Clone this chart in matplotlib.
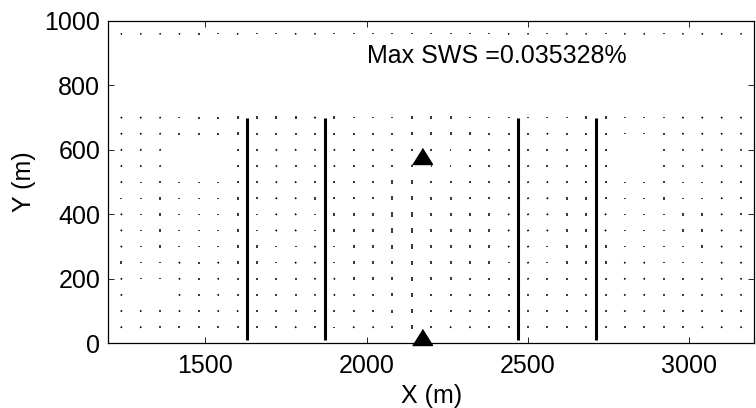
import numpy as np
import matplotlib
matplotlib.use('Agg')
import matplotlib.pyplot as plt
from matplotlib.collections import LineCollection

# grid of the splitting field (m)
x_cols = [1240, 1300, 1360, 1420, 1480, 1540, 1600, 1660, 1720, 1780, 1840,
          1900, 1960, 2020, 2080, 2140, 2200, 2260, 2320, 2380, 2440, 2500,
          2560, 2620, 2680, 2740, 2800, 2860, 2920, 2980, 3040, 3100, 3160]
y_rows = [960, 700, 650, 600, 550, 500, 450, 400, 350, 300, 250, 200, 150, 100, 50]

# SWS magnitude (%) per grid node, rows top -> bottom
sws_mag = [
    [.012, .012, .012, .012, .012, .009, .012, .009, .009, .012, .012, .009, .009, .009, .009, .009, .009, .009, .009, .009, .012, .012, .009, .012, .012, .009, .012, .012, .009, .012, .012, .012, .012],
    [.014, .014, .014, .006, .014, .014, .020, .020, .020, .020, .016, .020, .012, .012, .012, .020, .020, .020, .012, .012, .012, .012, .012, .012, .020, .020, .012, .012, .012, .014, .014, .014, .014],
    [.014, .014, .014, .012, .014, .014, .020, .012, .012, .012, .012, .012, .012, .012, .012, .020, .020, .020, .020, .012, .012, .012, .014, .012, .012, .014, .006, .006, .012, .014, .014, .014, .014],
    [.014, .014, .014, .006, .006, .006, .020, .012, .014, .014, .014, .014, .012, .012, .012, .020, .020, .010, .012, .012, .012, .012, .012, .020, .020, .014, .006, .006, .014, .014, .014, .014, .014],
    [.014, .014, .014, .006, .006, .006, .020, .012, .014, .012, .014, .014, .012, .012, .012, .012, .010, .010, .012, .012, .012, .014, .012, .020, .020, .014, .006, .006, .014, .014, .014, .014, .014],
    [.014, .006, .020, .006, .006, .006, .020, .012, .014, .014, .020, .014, .012, .012, .032, .032, .020, .020, .012, .012, .012, .014, .014, .020, .020, .014, .006, .006, .020, .006, .006, .014, .014],
    [.006, .006, .020, .006, .006, .006, .020, .012, .014, .014, .020, .014, .012, .012, .033, .033, .020, .020, .012, .012, .012, .014, .014, .020, .020, .014, .006, .006, .020, .006, .006, .014, .014],
    [.014, .006, .020, .006, .006, .006, .020, .012, .014, .014, .006, .020, .022, .022, .0353, .035, .022, .022, .020, .020, .014, .014, .014, .020, .020, .014, .006, .006, .006, .020, .020, .014, .014],
    [.014, .006, .020, .006, .006, .006, .020, .012, .014, .014, .006, .020, .022, .022, .035, .035, .022, .022, .020, .020, .014, .014, .014, .020, .020, .014, .006, .006, .006, .020, .020, .014, .014],
    [.014, .006, .020, .006, .014, .014, .020, .020, .012, .012, .014, .012, .022, .022, .032, .034, .022, .022, .020, .020, .014, .014, .012, .020, .020, .020, .006, .006, .006, .006, .020, .014, .014],
    [.020, .006, .006, .014, .014, .014, .020, .020, .012, .014, .014, .012, .022, .022, .024, .034, .022, .022, .020, .020, .012, .014, .012, .020, .020, .020, .014, .014, .006, .006, .006, .014, .014],
    [.014, .006, .006, .014, .014, .014, .020, .020, .012, .012, .014, .014, .022, .022, .024, .034, .022, .022, .020, .020, .012, .014, .012, .020, .020, .020, .014, .014, .014, .014, .014, .014, .014],
    [.014, .006, .006, .014, .014, .014, .020, .012, .012, .012, .014, .014, .022, .022, .024, .034, .022, .022, .020, .020, .012, .012, .012, .020, .020, .020, .014, .014, .014, .014, .014, .014, .014],
    [.014, .014, .014, .014, .014, .014, .014, .012, .012, .012, .014, .014, .022, .022, .024, .034, .022, .022, .020, .020, .012, .012, .012, .020, .020, .020, .014, .014, .014, .014, .014, .014, .014],
    [.014, .014, .012, .012, .012, .012, .012, .012, .012, .014, .012, .006, .014, .014, .020, .032, .020, .014, .014, .012, .012, .012, .012, .012, .012, .012, .012, .012, .020, .020, .014, .014, .014],
]

# fast direction (deg from +x) per grid node
sws_dir = [
    [45, 45, 45, 45, 90, 90, 45, 90, 90, 135, 135, 90, 90, 90, 90, 90, 90, 90, 90, 90, 45, 45, 90, 45, 45, 90, 135, 135, 90, 135, 135, 135, 135],
    [45, 45, 45, 90, 90, 90, 90, 90, 90, 90, 135, 90, 90, 90, 90, 90, 90, 90, 90, 90, 90, 90, 90, 90, 90, 90, 90, 90, 90, 135, 135, 135, 135],
    [45, 45, 45, 90, 90, 90, 90, 90, 90, 90, 90, 90, 90, 90, 90, 90, 90, 90, 90, 90, 90, 90, 45, 90, 90, 90, 90, 90, 90, 135, 135, 135, 135],
    [45, 45, 45, 90, 90, 90, 90, 90, 135, 135, 135, 135, 90, 90, 90, 90, 90, 0, 90, 90, 90, 90, 90, 90, 90, 90, 90, 90, 90, 135, 135, 135, 135],
    [45, 45, 45, 90, 90, 90, 90, 90, 135, 90, 135, 135, 90, 90, 90, 90, 0, 0, 90, 90, 90, 45, 90, 90, 90, 90, 90, 90, 90, 135, 135, 135, 135],
    [45, 90, 90, 90, 90, 90, 90, 90, 135, 135, 90, 0, 90, 90, 90, 90, 90, 90, 90, 90, 90, 45, 45, 90, 90, 90, 90, 90, 90, 90, 90, 135, 0],
    [90, 90, 90, 90, 90, 90, 90, 90, 135, 135, 90, 0, 90, 90, 90, 90, 90, 90, 90, 90, 90, 45, 45, 90, 90, 90, 90, 90, 90, 90, 90, 135, 0],
    [45, 90, 90, 90, 90, 90, 90, 90, 135, 135, 90, 90, 90, 90, 90, 90, 90, 90, 90, 90, 45, 45, 45, 90, 90, 45, 90, 90, 90, 90, 90, 135, 0],
    [45, 90, 90, 90, 90, 90, 90, 90, 135, 135, 90, 90, 90, 90, 90, 90, 90, 90, 90, 90, 45, 45, 45, 90, 90, 45, 90, 90, 90, 90, 90, 135, 135],
    [45, 90, 90, 90, 90, 90, 90, 90, 90, 90, 135, 90, 90, 90, 90, 90, 90, 90, 90, 90, 45, 45, 90, 90, 90, 90, 90, 90, 90, 90, 90, 135, 135],
    [90, 90, 90, 135, 90, 135, 90, 90, 90, 135, 135, 90, 90, 90, 90, 90, 90, 90, 90, 90, 90, 45, 90, 90, 90, 90, 45, 45, 90, 90, 90, 135, 135],
    [45, 90, 90, 135, 90, 135, 90, 90, 90, 90, 135, 135, 90, 90, 90, 90, 90, 90, 90, 90, 90, 45, 90, 90, 90, 90, 45, 45, 90, 90, 90, 135, 135],
    [45, 90, 90, 135, 90, 135, 90, 90, 90, 90, 135, 135, 90, 90, 90, 90, 90, 90, 90, 90, 90, 90, 90, 90, 90, 90, 45, 45, 90, 90, 90, 135, 135],
    [45, 45, 90, 135, 90, 135, 135, 90, 90, 90, 0, 0, 90, 90, 90, 90, 90, 90, 90, 90, 90, 90, 90, 90, 90, 90, 45, 45, 90, 90, 90, 0, 0],
    [45, 45, 90, 90, 90, 90, 90, 90, 90, 135, 90, 90, 135, 135, 90, 90, 90, 135, 135, 90, 90, 90, 90, 90, 90, 90, 90, 90, 90, 90, 135, 135, 135],
]

# wells (vertical lines) and stations (triangles)
well_x = [1630, 1870, 2470, 2710]
well_top = 700
well_bot = 10
station_x = [2170, 2170]
station_y = [580, 20]
max_sws = 0.035328

seg_scale = 400.0  # metres of segment per % of SWS

plt.rcParams['font.family'] = ['Liberation Sans', 'DejaVu Sans']
plt.rcParams['font.size'] = 18

fig = plt.figure(figsize=(7.56, 4.08), dpi=100)
ax = fig.add_axes([0.1435, 0.1586, 0.8538, 0.790])

# splitting field as short centred segments
X, Y = np.meshgrid(np.array(x_cols, float), np.array(y_rows, float))
half = 0.5 * np.array(sws_mag) * seg_scale
th = np.deg2rad(np.array(sws_dir, float))
dx = half * np.cos(th)
dy = half * np.sin(th)
p0 = np.stack([X - dx, Y - dy], axis=-1)
p1 = np.stack([X + dx, Y + dy], axis=-1)
segs = np.stack([p0, p1], axis=-2).reshape(-1, 2, 2)
ax.add_collection(LineCollection(segs, colors='k', linewidths=1.1))

for wx in well_x:
    ax.plot([wx, wx], [well_bot, well_top], color='k', lw=2.2, solid_capstyle='butt')

tri = [(-1.0, -0.8), (1.0, -0.8), (0.0, 0.8)]
ax.plot(station_x, station_y, ls='none', marker=tri, ms=14.4, color='k',
        clip_on=False, zorder=5)

ax.text(2000, 871, 'Max SWS =%g%%' % max_sws, va='baseline', ha='left')

ax.set_xlim(1200, 3200)
ax.set_ylim(0, 1000)
ax.set_xticks([1500, 2000, 2500, 3000])
ax.set_yticks([0, 200, 400, 600, 800, 1000])
ax.tick_params(direction='in', length=4.5, width=0.6, top=True, right=True)
ax.tick_params(axis='x', pad=8)
ax.tick_params(axis='y', pad=6)
for s in ax.spines.values():
    s.set_linewidth(0.9)
ax.set_xlabel('X (m)', labelpad=4)
ax.set_ylabel('Y (m)', labelpad=6)

fig.savefig('out.png', dpi=100)
